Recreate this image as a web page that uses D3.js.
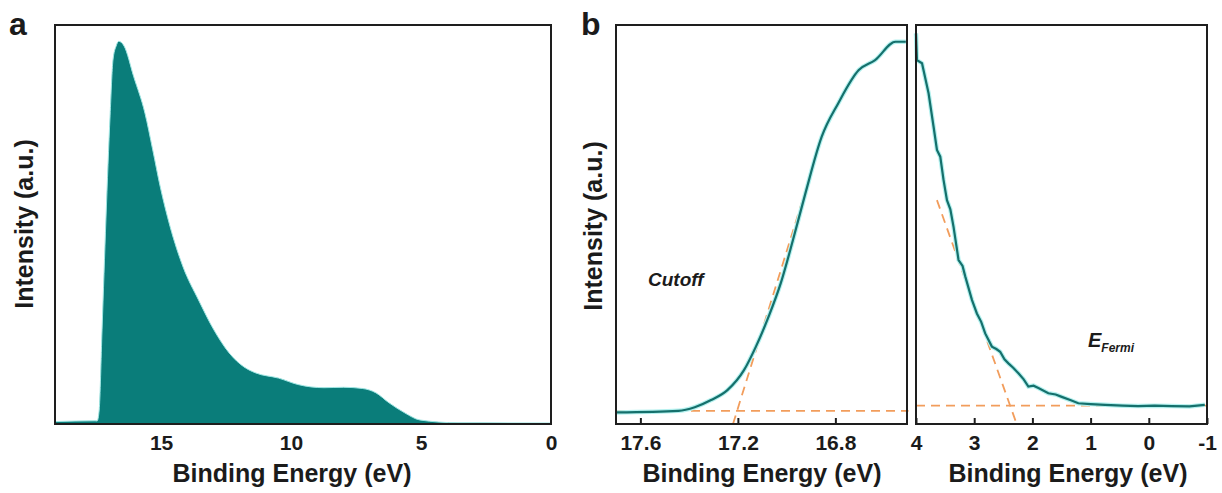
<!DOCTYPE html>
<html>
<head>
<meta charset="utf-8">
<script src="https://cdn.jsdelivr.net/npm/d3@7"></script>
<style>
  body { margin: 0; background: #fff; }
  text { font-family: "Liberation Sans", Arial, sans-serif; font-weight: bold; fill: #1b1b1b; }
</style>
</head>
<body>
<svg id="chart" width="1222" height="493"></svg>
<script>
// panel a: full UPS spectrum
const fullEnergy = [19.08, 17.54, 17.46, 17.38, 17.27, 17.12, 16.96, 16.85, 16.73, 16.63, 16.54, 16.42,
  16.05, 15.62, 15.32, 15.03, 14.65, 14.15, 13.56, 12.97, 12.38, 11.81, 11.36, 10.48, 9.74, 8.73,
  7.98, 7.25, 6.73, 6.23, 5.63, 5.04, 3.58, 0];
const fullIntensity = [0.6, 0.8, 0.75, 3.5, 23.6, 51.4, 77.4, 91.2, 94.7, 95.9, 95.7, 94.7,
  87, 77.9, 68.7, 59.4, 49.4, 39.3, 31.1, 23.6, 17.8, 14.3, 12.8, 11.5, 9.9, 9.1,
  9.2, 8.9, 7.8, 5.3, 2.8, 1.0, 0.3, 0.25];
const fullTicks = [15, 10, 5, 0];

// panel b left: secondary electron cutoff
const cutoffEnergy = [17.696, 17.444, 17.377, 17.31, 17.243, 17.175, 17.126, 17.074, 17.024,
  16.974, 16.923, 16.856, 16.788, 16.704, 16.637, 16.553, 16.511];
const cutoffIntensity = [2.9, 3.3, 4.2, 6.0, 8.5, 13.5, 19.4, 26.9, 35.3,
  46.1, 57.8, 72.0, 80.4, 88.7, 91.2, 95.8, 95.8];
const cutoffTicks = [17.6, 17.2, 16.8];
const cutoffTangentE = [17.22, 16.93];
const cutoffTangentI = [0, 57];
const cutoffBase = 3.3;

// panel b right: Fermi edge region
const fermiEnergy = [4.0, 3.983, 3.897, 3.784, 3.698, 3.64, 3.583, 3.527, 3.468, 3.41, 3.355,
  3.269, 3.2, 3.154, 3.039, 2.954, 2.88, 2.811, 2.696, 2.62, 2.554, 2.48, 2.412, 2.33, 2.24,
  2.15, 2.069, 1.98, 1.897, 1.726, 1.6, 1.496, 1.35, 1.211, 1.0, 0.753, 0.45, 0.182, -0.1,
  -0.391, -0.7, -0.962];
const fermiIntensity = [97.9, 91.2, 90.4, 82.9, 74.5, 68.7, 67.0, 61.2, 56.1, 53.8, 49.4,
  41.1, 39.6, 37.0, 31.1, 27.7, 25.6, 22.7, 19.4, 18.8, 18.1, 16.2, 15.2, 14.1, 12.7,
  11.2, 9.4, 9.6, 9.0, 7.7, 7.4, 6.8, 6.0, 5.2, 5.0, 4.8, 4.6, 4.5, 4.6,
  4.5, 4.4, 4.8];
const fermiTicks = [4, 3, 2, 1, 0, -1];
const fermiTangentE = [3.64, 2.27];
const fermiTangentI = [56.1, 0];
const fermiBase = 4.6;

const teal = "#0a7d7a";
const lineTeal = "#15706c";
const orange = "#f29d5c";

const svg = d3.select("#chart");
const plotTop = 25, plotBottom = 424;
const y = d3.scaleLinear().domain([0, 100]).range([plotBottom, plotTop]);

const zip = (xs, ys) => xs.map((e, i) => ({ e, i: ys[i] }));

function frame(x0, x1) {
  svg.append("rect")
    .attr("x", x0).attr("y", plotTop)
    .attr("width", x1 - x0).attr("height", plotBottom - plotTop)
    .attr("fill", "none").attr("stroke", "#1e1e1e").attr("stroke-width", 2);
}

function axis(x, ticks, tickLen) {
  const g = svg.append("g")
    .attr("transform", `translate(0,${plotBottom})`)
    .call(d3.axisBottom(x).tickValues(ticks).tickSize(-tickLen).tickPadding(11)
      .tickFormat(d => (Number.isInteger(d) ? d : d.toFixed(1))));
  g.select(".domain").remove();
  g.selectAll(".tick line").attr("stroke", "#1e1e1e").attr("stroke-width", 2);
  g.selectAll(".tick text").attr("font-size", 21).attr("fill", "#1b1b1b");
}

function xLabel(cx) {
  svg.append("text").attr("x", cx).attr("y", 482)
    .attr("text-anchor", "middle").attr("font-size", 25)
    .text("Binding Energy (eV)");
}

function yLabel(bx, cy) {
  svg.append("text")
    .attr("transform", `translate(${bx},${cy}) rotate(-90)`)
    .attr("text-anchor", "middle").attr("font-size", 25)
    .text("Intensity (a.u.)");
}

function dashed(x, es, is) {
  svg.append("path")
    .datum(zip(es, is))
    .attr("d", d3.line().x(d => x(d.e)).y(d => y(d.i)))
    .attr("fill", "none").attr("stroke", orange)
    .attr("stroke-width", 1.8).attr("stroke-dasharray", "9,6");
}

function spectrum(x, es, is, curve) {
  const line = d3.line().x(d => x(d.e)).y(d => y(d.i)).curve(curve);
  const data = zip(es, is);
  svg.append("path").datum(data).attr("d", line)
    .attr("fill", "none").attr("stroke", "#b5f1ef").attr("stroke-width", 4.5);
  svg.append("path").datum(data).attr("d", line)
    .attr("fill", "none").attr("stroke", lineTeal).attr("stroke-width", 2.2);
}

// ---- panel a
const xa = d3.scaleLinear().domain([19.08, 0]).range([55, 551]);
svg.append("path")
  .datum(zip(fullEnergy, fullIntensity))
  .attr("d", d3.area().x(d => xa(d.e)).y0(y(0)).y1(d => y(d.i)).curve(d3.curveMonotoneX))
  .attr("fill", teal).attr("stroke", "#9fe6e3").attr("stroke-width", 1);
frame(55, 551);
axis(xa, fullTicks, 0);
xLabel(292);
yLabel(33, 224);
svg.append("text").attr("x", 9).attr("y", 35).attr("font-size", 32).text("a");

// ---- panel b, left
const xb1 = d3.scaleLinear().domain([17.7, 16.5]).range([616, 908.5]);
dashed(xb1, [17.7, 16.5], [cutoffBase, cutoffBase]);
dashed(xb1, cutoffTangentE, cutoffTangentI);
spectrum(xb1, cutoffEnergy, cutoffIntensity, d3.curveMonotoneX);
frame(616, 907);
axis(xb1, cutoffTicks, 6);
xLabel(762);
yLabel(602, 226);
svg.append("text").attr("x", 581).attr("y", 35).attr("font-size", 32).text("b");
svg.append("text").attr("x", 648).attr("y", 286).attr("font-size", 19)
  .attr("font-style", "italic").text("Cutoff");

// ---- panel b, right
const xb2 = d3.scaleLinear().domain([4, -1]).range([916, 1207]);
dashed(xb2, [4, -1], [fermiBase, fermiBase]);
dashed(xb2, fermiTangentE, fermiTangentI);
spectrum(xb2, fermiEnergy, fermiIntensity, d3.curveLinear);
frame(916, 1207);
axis(xb2, fermiTicks, 6);
xLabel(1068);
const ef = svg.append("text").attr("x", 1088).attr("y", 347)
  .attr("font-size", 20).attr("font-style", "italic");
ef.append("tspan").text("E");
ef.append("tspan").attr("font-size", 12).attr("dy", 5).text("Fermi");
</script>
</body>
</html>
